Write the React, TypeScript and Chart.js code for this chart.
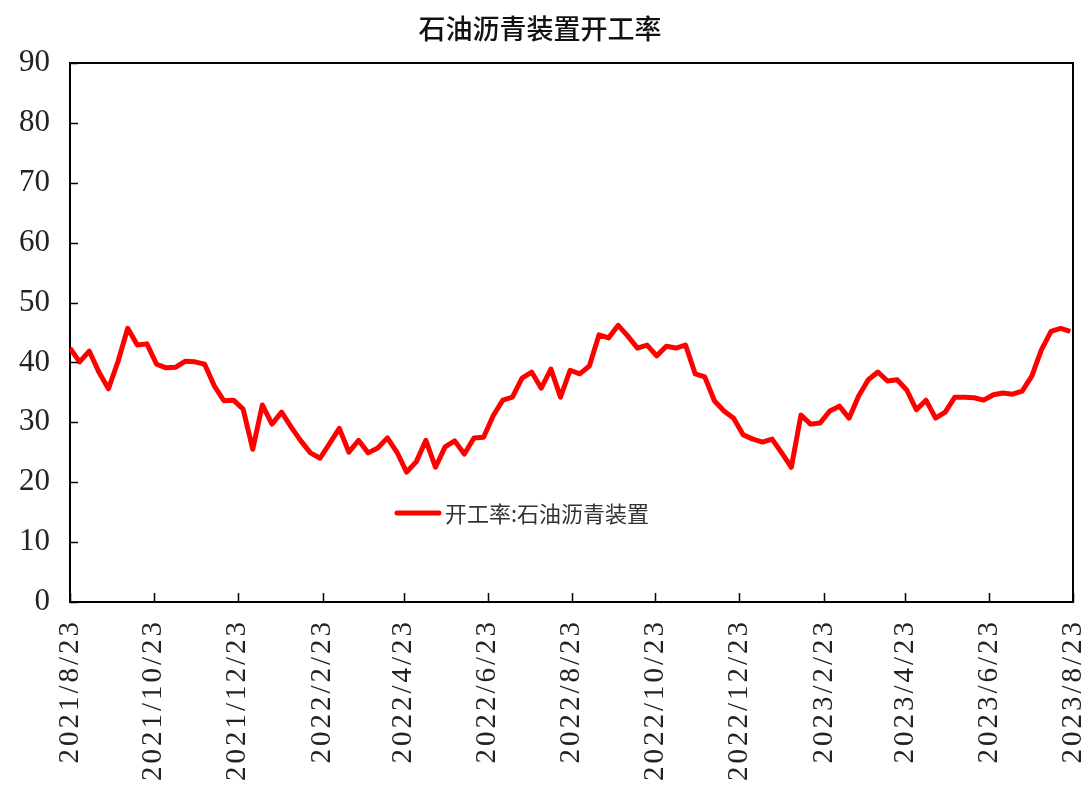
import React, { useEffect, useRef } from "react";
import { Chart, registerables } from "chart.js";

Chart.register(...registerables);

const TITLE = "石油沥青装置开工率";
const SERIES_NAME = "开工率:石油沥青装置";
const START_DATE = "2021-08-23";
const END_DATE = "2023-08-23";
const WEEK_DAYS = 7;

// weekly values (%)
const VALUES: number[] = [
  42.4, 40.1, 41.9, 38.4, 35.6, 40.2, 45.7, 42.9, 43.1, 39.7,
  39.1, 39.2, 40.2, 40.1, 39.7, 36.1, 33.6, 33.7, 32.2, 25.5,
  32.9, 29.7, 31.7, 29.2, 26.9, 24.9, 24.0, 26.5, 29.0, 25.0,
  27.0, 24.9, 25.7, 27.4, 25.0, 21.7, 23.4, 27.0, 22.5, 25.9,
  26.9, 24.7, 27.4, 27.5, 31.1, 33.7, 34.2, 37.4, 38.4, 35.7,
  38.9, 34.2, 38.7, 38.1, 39.4, 44.6, 44.1, 46.2, 44.4, 42.4,
  42.9, 41.1, 42.7, 42.4, 42.9, 38.1, 37.6, 33.6, 31.9, 30.7,
  27.9, 27.2, 26.7, 27.2, 24.9, 22.5, 31.2, 29.7, 29.9, 31.9,
  32.7, 30.7, 34.4, 37.1, 38.4, 36.9, 37.1, 35.4, 32.1, 33.7,
  30.7, 31.7, 34.2, 34.2, 34.1, 33.7, 34.6, 34.9, 34.7, 35.2,
  37.7, 42.1, 45.2, 45.7, 45.2,
];

const TICK_DATES: string[] = [
  "2021-08-23", "2021-10-23", "2021-12-23", "2022-02-23", "2022-04-23",
  "2022-06-23", "2022-08-23", "2022-10-23", "2022-12-23", "2023-02-23",
  "2023-04-23", "2023-06-23", "2023-08-23",
];
const TICK_LABELS: string[] = [
  "2021/8/23", "2021/10/23", "2021/12/23", "2022/2/23", "2022/4/23",
  "2022/6/23", "2022/8/23", "2022/10/23", "2022/12/23", "2023/2/23",
  "2023/4/23", "2023/6/23", "2023/8/23",
];

const Y_MIN = 0;
const Y_MAX = 90;
const Y_STEP = 10;

const DAY_MS = 86400000;
const dayOf = (iso: string) => Math.round((Date.parse(iso + "T00:00:00Z") - Date.parse(START_DATE + "T00:00:00Z")) / DAY_MS);

const LINE_COLOR = "#ff0000";
const TEXT_COLOR = "#222222";

const framePlugin = {
  id: "frameAndDecor",
  afterDraw(chart: any) {
    const { ctx, chartArea, scales } = chart;
    const { left, right, top, bottom } = chartArea;
    ctx.save();
    // frame top/right
    ctx.strokeStyle = "#000";
    ctx.lineWidth = 2;
    ctx.beginPath();
    ctx.moveTo(left, top);
    ctx.lineTo(right, top);
    ctx.lineTo(right, bottom);
    ctx.stroke();
    // inward ticks
    ctx.lineWidth = 1.5;
    ctx.beginPath();
    scales.y.ticks.forEach((t: any) => {
      const py = Math.round(scales.y.getPixelForValue(t.value)) + 0.5;
      ctx.moveTo(left, py);
      ctx.lineTo(left + 8, py);
    });
    scales.x.ticks.forEach((t: any) => {
      const px = Math.round(scales.x.getPixelForValue(t.value)) + 0.5;
      ctx.moveTo(px, bottom);
      ctx.lineTo(px, bottom - 9);
    });
    ctx.stroke();

    // rotated x tick labels
    ctx.fillStyle = TEXT_COLOR;
    ctx.font = '29px "Liberation Serif"';
    (ctx as any).letterSpacing = "3px";
    ctx.textAlign = "right";
    ctx.textBaseline = "middle";
    scales.x.ticks.forEach((t: any) => {
      const idx = TICK_DATES.map(dayOf).indexOf(t.value);
      if (idx < 0) return;
      const px = scales.x.getPixelForValue(t.value);
      ctx.save();
      ctx.translate(px, bottom + 17);
      ctx.rotate(-Math.PI / 2);
      ctx.fillText(TICK_LABELS[idx], 0, 0);
      ctx.restore();
    });
    (ctx as any).letterSpacing = "0px";

    // title
    ctx.fillStyle = "#111";
    ctx.font = '500 27px "Noto Sans CJK SC"';
    ctx.textAlign = "center";
    ctx.textBaseline = "middle";
    ctx.fillText(TITLE, chart.width / 2 - 3, 29);

    // legend inside plot
    const lx = left + (right - left) * 0.324;
    const ly = top + (bottom - top) * 0.835;
    ctx.strokeStyle = LINE_COLOR;
    ctx.lineWidth = 5;
    ctx.lineCap = "round";
    ctx.beginPath();
    ctx.moveTo(lx + 2, ly);
    ctx.lineTo(lx + 44, ly);
    ctx.stroke();
    ctx.fillStyle = "#333";
    ctx.font = '22px "Noto Sans CJK SC"';
    ctx.textAlign = "left";
    ctx.fillText(SERIES_NAME, lx + 50, ly + 1);
    ctx.restore();
  },
};

export default function App() {
  const ref = useRef<HTMLCanvasElement | null>(null);
  useEffect(() => {
    if (!ref.current) return;
    const points = VALUES.map((v, i) => ({ x: i * WEEK_DAYS, y: v }));
    const tickValues = TICK_DATES.map(dayOf);
    const chart = new Chart(ref.current, {
      type: "line",
      data: {
        datasets: [
          {
            label: SERIES_NAME,
            data: points,
            borderColor: LINE_COLOR,
            backgroundColor: LINE_COLOR,
            borderWidth: 5,
            pointRadius: 0,
            tension: 0,
            borderJoinStyle: "round",
          },
        ],
      },
      options: {
        animation: false,
        responsive: false,
        maintainAspectRatio: false,
        layout: { padding: { top: 63, right: 13, left: 0, bottom: 0 } },
        plugins: { legend: { display: false }, title: { display: false }, tooltip: { enabled: false } },
        scales: {
          x: {
            type: "linear",
            min: 0,
            max: dayOf(END_DATE),
            afterBuildTicks: (scale: any) => {
              scale.ticks = tickValues.map((v) => ({ value: v }));
            },
            afterFit: (scale: any) => {
              scale.height = 183;
              scale.paddingLeft = 0;
              scale.paddingRight = 0;
            },
            grid: { display: false, drawTicks: false },
            border: { display: true, color: "#000", width: 2 },
            ticks: { display: false, autoSkip: false },
          },
          y: {
            min: Y_MIN,
            max: Y_MAX,
            afterFit: (scale: any) => {
              scale.width = 70;
            },
            grid: { display: false, drawTicks: false },
            border: { display: true, color: "#000", width: 2 },
            ticks: {
              stepSize: Y_STEP,
              padding: 20,
              color: TEXT_COLOR,
              font: { family: "Liberation Serif", size: 31 },
            },
          },
        },
      },
      plugins: [framePlugin],
    } as any);
    return () => chart.destroy();
  }, []);
  return (
    <div style={{ position: "fixed", left: 0, top: 0, width: 1086, height: 785, background: "#fff" }}>
      <canvas ref={ref} width={1086} height={785} style={{ width: 1086, height: 785, display: "block" }} />
    </div>
  );
}
